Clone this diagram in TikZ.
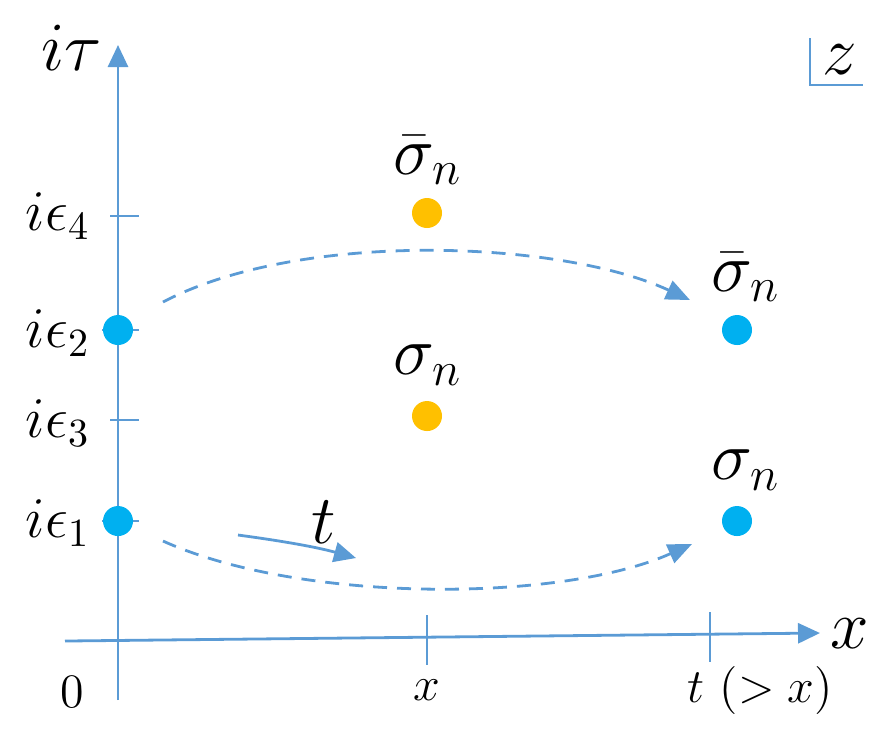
\documentclass[tikz,border=0pt]{standalone}
\usetikzlibrary{arrows.meta}
\definecolor{axis}{HTML}{5B9BD5}
\definecolor{dotblue}{HTML}{00B0F0}
\definecolor{dotorange}{HTML}{FFC000}
\tikzset{
  ax/.style={draw=axis, line width=0.7pt},
  axarrow/.style={ax, -{Triangle[length=5.5pt,width=5pt]}},
  dasharc/.style={ax, dash pattern=on 3.5pt off 2.5pt, -{Triangle[length=6pt,width=5pt]}},
  bdot/.style={circle, fill=dotblue, inner sep=0pt, minimum size=7.5pt},
  odot/.style={circle, fill=dotorange, inner sep=0pt, minimum size=7.5pt},
  lab/.style={inner sep=0pt, font=\fontsize{14}{16}\selectfont},
  big/.style={inner sep=0pt, font=\fontsize{17}{20}\selectfont},
  small/.style={inner sep=0pt, font=\fontsize{12}{14}\selectfont},
}
\begin{document}
\begin{tikzpicture}[x=0.25pt,y=-0.25pt]
\useasboundingbox (0,0) rectangle (896,732);
% axes
\coordinate (ybot) at (118,700);
\coordinate (ytop) at (118,45);
\coordinate (xl) at (65,641);
\coordinate (xr) at (820,633);
\draw[axarrow] (ybot) -- (ytop);
\draw[axarrow] (xl) -- (xr);
% y ticks
\coordinate (t4a) at (110,216); \coordinate (t4b) at (139,216);
\coordinate (t2a) at (102,330); \coordinate (t2b) at (139,330);
\coordinate (t3a) at (110,420); \coordinate (t3b) at (139,420);
\coordinate (t1a) at (102,521); \coordinate (t1b) at (139,521);
\draw[ax] (t4a) -- (t4b);
\draw[ax] (t2a) -- (t2b);
\draw[ax] (t3a) -- (t3b);
\draw[ax] (t1a) -- (t1b);
% x ticks
\coordinate (xa1) at (427,615); \coordinate (xa2) at (427,665);
\coordinate (xb1) at (710,612); \coordinate (xb2) at (710,662);
\draw[ax] (xa1) -- (xa2);
\draw[ax] (xb1) -- (xb2);
% z corner
\coordinate (z1) at (810,38); \coordinate (z2) at (810,85); \coordinate (z3) at (863,85);
\draw[ax] (z1) -- (z2) -- (z3);
\node[big] (zl) at (840,60) {$z$};
% axis labels
\node[big] (itau) at (72,48) {$i\tau$};
\node[big] (xlab) at (850,634) {$x$};
\node[lab] (e4) at (58,216) {$i\epsilon_4$};
\node[lab] (e2) at (58,333) {$i\epsilon_2$};
\node[lab] (e3) at (58,423) {$i\epsilon_3$};
\node[lab] (e1) at (58,523) {$i\epsilon_1$};
\node[small] (zero) at (72,692) {$0$};
\node[small] (xt) at (427,690) {$x$};
\node[small] (tgx) at (760,690) {$t\ (>x)$};
% dots
\node[bdot] (p2) at (118,330) {};
\node[bdot] (p1) at (118,521) {};
\node[bdot] (q2) at (737,330) {};
\node[bdot] (q1) at (737,521) {};
\node[odot] (o4) at (427,213) {};
\node[odot] (o3) at (427,416) {};
% dot labels
\node[big] (s4) at (428,160) {$\bar\sigma_n$};
\node[big] (s3) at (428,365) {$\sigma_n$};
\node[big] (sq2) at (746,277) {$\bar\sigma_n$};
\node[big] (sq1) at (746,470) {$\sigma_n$};
% dashed arcs
\coordinate (a1) at (163,302); \coordinate (a2) at (690,300);
\coordinate (b1) at (163,541); \coordinate (b2) at (692,544);
\draw[dasharc] (a1) .. controls (300,230) and (560,240) .. (a2);
\draw[dasharc] (b1) .. controls (300,603) and (560,603) .. (b2);
% t arrow
\coordinate (c1) at (238,535); \coordinate (c2) at (356,558);
\draw[axarrow] (c1) .. controls (290,542) and (320,548) .. (c2);
\node[big] (tl) at (324,522) {$t$};
\end{tikzpicture}
\end{document}
